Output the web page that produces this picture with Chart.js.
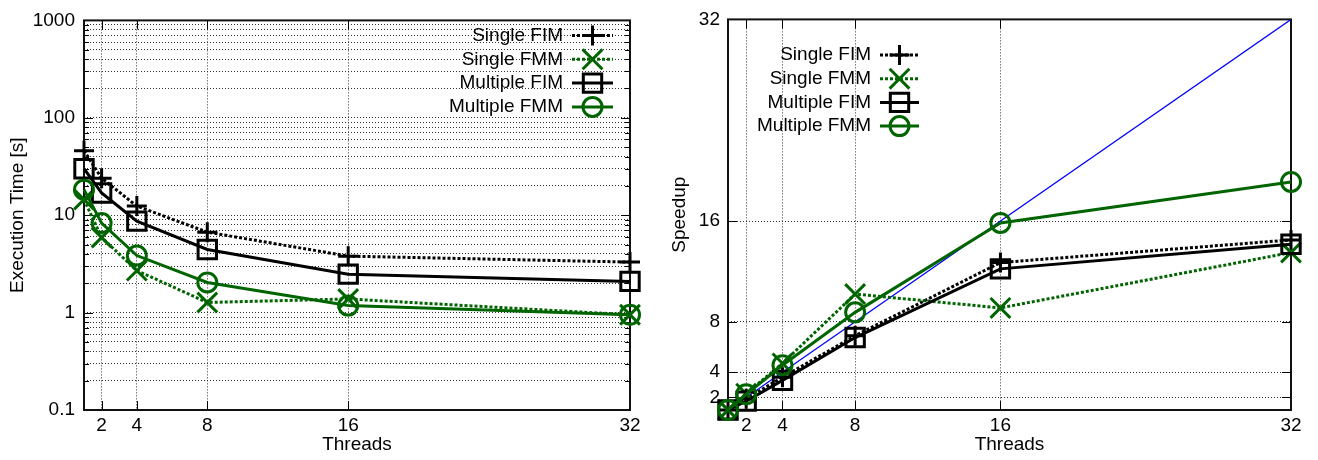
<!DOCTYPE html>
<html>
<head>
<meta charset="utf-8">
<script src="https://cdn.jsdelivr.net/npm/chart.js@4.4.0/dist/chart.umd.min.js"></script>
<style>
    body { margin: 0; background: #fff; }
    .grafico { position: absolute; top: 0; }
</style>
</head>
<body>
<canvas id="grafico-tempo" class="grafico" width="659" height="460" style="left:0"></canvas>
<canvas id="grafico-speedup" class="grafico" width="659" height="460" style="left:659px"></canvas>
<script>
const threads = [1, 2, 4, 8, 16, 32];
const threadTicks = [2, 4, 8, 16, 32];
const timeTicks = [0.1, 1, 10, 100, 1000];
const speedupTicks = [2, 4, 8, 16, 32];

const seriesNames = ['Single FIM', 'Single FMM', 'Multiple FIM', 'Multiple FMM'];

// execution time [s]
const timeSingleFIM = [46, 24, 12.4, 6.7, 3.8, 3.3];
const timeSingleFMM = [14.5, 5.9, 2.7, 1.27, 1.38, 0.95];
const timeMultipleFIM = [30, 16.9, 8.7, 4.45, 2.48, 2.09];
const timeMultipleFMM = [18.3, 8.3, 3.85, 2.04, 1.18, 0.95];

// speedup
const speedupSingleFIM = [1, 1.9, 3.6, 6.9, 12.7, 14.5];
const speedupSingleFMM = [1, 2.3, 4.7, 10.2, 9.1, 13.5];
const speedupMultipleFIM = [1, 1.7, 3.35, 6.75, 12.2, 14.15];
const speedupMultipleFMM = [1, 2.25, 4.55, 8.75, 15.85, 19.1];

const idealThreads = [1, 32];
const idealSpeedup = [1, 32];

const verde = '#006400';
const estilos = [
    { cor: '#000', dash: [3, 2], ponto: 'cross', raio: 10 },
    { cor: verde, dash: [3, 2], ponto: 'crossRot', raio: 14 },
    { cor: '#000', dash: [], ponto: 'rect', raio: 13 },
    { cor: verde, dash: [], ponto: 'circle', raio: 9.5 },
];

Chart.defaults.font.family = '"Liberation Sans", Arial, sans-serif';
Chart.defaults.font.size = 19;
Chart.defaults.color = '#000';

function montaSerie(nome, valores, i) {
    const e = estilos[i];
    return {
        label: nome,
        data: threads.map((t, k) => ({ x: t, y: valores[k] })),
        borderColor: e.cor,
        borderWidth: 3,
        borderDash: e.dash,
        pointStyle: e.ponto,
        pointRadius: e.raio,
        pointHoverRadius: e.raio,
        pointBorderWidth: 3,
        pointBorderColor: e.cor,
        pointBackgroundColor: 'rgba(0,0,0,0)',
        tension: 0,
        fill: false,
        clip: false,
        order: 4 - i,
    };
}

function desenhaMarcador(ctx, estilo, x, y) {
    const r = estilo.raio;
    ctx.beginPath();
    if (estilo.ponto === 'cross') {
        ctx.moveTo(x - r, y); ctx.lineTo(x + r, y);
        ctx.moveTo(x, y - r); ctx.lineTo(x, y + r);
    } else if (estilo.ponto === 'crossRot') {
        const d = r * Math.SQRT1_2;
        ctx.moveTo(x - d, y - d); ctx.lineTo(x + d, y + d);
        ctx.moveTo(x - d, y + d); ctx.lineTo(x + d, y - d);
    } else if (estilo.ponto === 'rect') {
        const d = r * Math.SQRT1_2;
        ctx.rect(x - d, y - d, 2 * d, 2 * d);
    } else {
        ctx.arc(x, y, r, 0, Math.PI * 2);
    }
    ctx.stroke();
}

// frame + inward tick marks, like gnuplot
const moldura = {
    id: 'moldura',
    beforeDatasetsDraw(chart) {
        const { ctx, chartArea: a } = chart;
        ctx.save();
        ctx.strokeStyle = '#000';
        ctx.lineWidth = 1;
        Object.values(chart.scales).forEach((scale) => {
            scale.ticks.forEach((tick) => {
                const p = Math.round(scale.getPixelForValue(tick.value)) + 0.5;
                const tam = tick.label === '' ? 5 : 9;
                ctx.beginPath();
                if (scale.isHorizontal()) {
                    if (p < a.left + 2 || p > a.right - 2) return;
                    ctx.moveTo(p, a.bottom); ctx.lineTo(p, a.bottom - tam);
                    ctx.moveTo(p, a.top); ctx.lineTo(p, a.top + tam);
                } else {
                    if (p < a.top + 2 || p > a.bottom - 2) return;
                    ctx.moveTo(a.left, p); ctx.lineTo(a.left + tam, p);
                    ctx.moveTo(a.right, p); ctx.lineTo(a.right - tam, p);
                }
                ctx.stroke();
            });
        });
        ctx.strokeStyle = '#111';
        ctx.lineWidth = 2;
        ctx.strokeRect(a.left, a.top, a.right - a.left, a.bottom - a.top);
        ctx.restore();
    }
};

// key with text on the left and line sample on the right
const legenda = {
    id: 'legenda',
    afterDraw(chart, args, opts) {
        const ctx = chart.ctx;
        ctx.save();
        ctx.font = '19px "Liberation Sans", Arial, sans-serif';
        ctx.textAlign = 'right';
        ctx.textBaseline = 'middle';
        seriesNames.forEach((nome, i) => {
            const y = opts.topo + i * opts.passo;
            const e = estilos[i];
            ctx.fillStyle = '#000';
            ctx.fillText(nome, opts.textoDireita, y);
            ctx.strokeStyle = e.cor;
            ctx.lineWidth = 3;
            ctx.setLineDash(e.dash);
            ctx.beginPath();
            ctx.moveTo(opts.inicio, y);
            ctx.lineTo(opts.fim, y);
            ctx.stroke();
            ctx.setLineDash([]);
            desenhaMarcador(ctx, e, (opts.inicio + opts.fim) / 2, y);
        });
        ctx.restore();
    }
};

const grade = {
    color: '#333',
    lineWidth: 1,
    drawTicks: false,
};
const bordaGrade = { display: false, dash: [1, 2] };

function eixoX() {
    return {
        type: 'linear',
        min: 1,
        max: 32,
        afterBuildTicks: (s) => { s.ticks = threadTicks.map((v) => ({ value: v })); },
        afterFit: (s) => { s.height = 50; },
        grid: grade,
        border: bordaGrade,
        ticks: { padding: 4, autoSkip: false, maxRotation: 0, callback: (v) => String(v) },
        title: { display: true, text: 'Threads', padding: { top: 0, bottom: 4 } },
    };
}

const timeGrid = [];
timeTicks.slice(0, -1).forEach((d) => {
    for (let k = 1; k < 10; k++) timeGrid.push(d * k);
});
timeGrid.push(timeTicks[timeTicks.length - 1]);

const graficoTempo = new Chart(document.getElementById('grafico-tempo'), {
    type: 'line',
    data: {
        datasets: [
            montaSerie(seriesNames[0], timeSingleFIM, 0),
            montaSerie(seriesNames[1], timeSingleFMM, 1),
            montaSerie(seriesNames[2], timeMultipleFIM, 2),
            montaSerie(seriesNames[3], timeMultipleFMM, 3),
        ]
    },
    options: {
        responsive: false,
        animation: false,
        layout: { padding: { top: 18, right: 29, left: 0, bottom: 0 } },
        plugins: {
            legend: { display: false },
            tooltip: { enabled: false },
            legenda: { textoDireita: 563, inicio: 572, fim: 613, topo: 35.5, passo: 23.8 },
        },
        scales: {
            x: eixoX(),
            y: {
                type: 'logarithmic',
                min: 0.1,
                max: 1000,
                afterBuildTicks: (s) => { s.ticks = timeGrid.map((v) => ({ value: v })); },
                afterFit: (s) => { s.width = 84; },
                grid: grade,
                border: bordaGrade,
                ticks: {
                    padding: 9,
                    autoSkip: false,
                    callback: (v) => timeTicks.includes(v) ? String(v) : '',
                },
                title: { display: true, text: 'Execution Time [s]', padding: { top: 6, bottom: 0 } },
            }
        }
    },
    plugins: [moldura, legenda],
});

const graficoSpeedup = new Chart(document.getElementById('grafico-speedup'), {
    type: 'line',
    data: {
        datasets: [
            montaSerie(seriesNames[0], speedupSingleFIM, 0),
            montaSerie(seriesNames[1], speedupSingleFMM, 1),
            montaSerie(seriesNames[2], speedupMultipleFIM, 2),
            montaSerie(seriesNames[3], speedupMultipleFMM, 3),
            {
                label: 'ideal',
                data: idealThreads.map((t, k) => ({ x: t, y: idealSpeedup[k] })),
                borderColor: '#0000ff',
                borderWidth: 1.2,
                pointRadius: 0,
                tension: 0,
                fill: false,
                order: 10,
            },
        ]
    },
    options: {
        responsive: false,
        animation: false,
        layout: { padding: { top: 18, right: 27, left: 0, bottom: 0 } },
        plugins: {
            legend: { display: false },
            tooltip: { enabled: false },
            legenda: { textoDireita: 212, inicio: 221, fim: 260, topo: 55, passo: 23.7 },
        },
        scales: {
            x: eixoX(),
            y: {
                type: 'linear',
                min: 1,
                max: 32,
                afterBuildTicks: (s) => { s.ticks = speedupTicks.map((v) => ({ value: v })); },
                afterFit: (s) => { s.width = 69; },
                grid: grade,
                border: bordaGrade,
                ticks: { padding: 8, autoSkip: false, callback: (v) => String(v) },
                title: { display: true, text: 'Speedup', padding: { top: 9, bottom: 0 } },
            }
        }
    },
    plugins: [moldura, legenda],
});
</script>
</body>
</html>
